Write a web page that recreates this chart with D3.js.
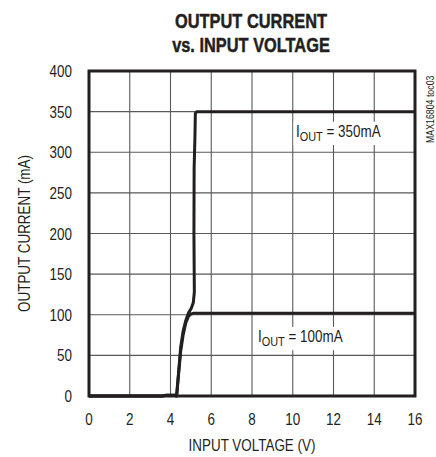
<!DOCTYPE html>
<html>
<head>
<meta charset="utf-8">
<script src="https://cdn.jsdelivr.net/npm/d3@7"></script>
<style>
  html, body { margin: 0; padding: 0; background: #fff; overflow: hidden; }
  svg { display: block; }
  text { font-family: "Liberation Sans", Arial, sans-serif; fill: #231f20; }
</style>
</head>
<body>
<svg id="chart" width="436" height="457"></svg>
<script>
// data
var xTicks = [0, 2, 4, 6, 8, 10, 12, 14, 16];
var yTicks = [0, 50, 100, 150, 200, 250, 300, 350, 400];

var vin350 = [0, 3.6, 3.8, 4.2, 4.3, 4.4, 4.5, 4.62, 4.75, 4.88, 5.02, 5.12, 5.17, 5.15, 5.16, 5.2, 5.22, 5.3, 16];
var iout350 = [0, 0, 1, 1, 0, 30, 60, 80, 93, 102, 108, 115, 128, 200, 280, 320, 348, 350, 350];

var vin100 = [0, 3.6, 3.8, 4.2, 4.3, 4.4, 4.5, 4.62, 4.75, 4.88, 5.0, 5.15, 5.3, 16];
var iout100 = [0, 0, 1, 1, 0, 28, 55, 75, 90, 98, 101, 102, 102, 102];

var margin = {top: 71, left: 89, right: 21, bottom: 61};
var width = 436, height = 457;
var innerWidth = width - margin.left - margin.right;
var innerHeight = height - margin.top - margin.bottom;
var narrow = 0.84; // condensed look

var svg = d3.select("#chart");

// scales work in page coordinates
var xScale = d3.scaleLinear().domain([0, 16]).range([margin.left, margin.left + innerWidth]);
var yScale = d3.scaleLinear().domain([0, 400]).range([margin.top + innerHeight, margin.top]);

// grid
svg.selectAll(".vgrid").data(xTicks).enter().append("line")
    .attr("x1", function (d) { return xScale(d); })
    .attr("x2", function (d) { return xScale(d); })
    .attr("y1", margin.top).attr("y2", margin.top + innerHeight)
    .attr("stroke", "#58595b").attr("stroke-width", 1.1);
svg.selectAll(".hgrid").data(yTicks).enter().append("line")
    .attr("y1", function (d) { return yScale(d); })
    .attr("y2", function (d) { return yScale(d); })
    .attr("x1", margin.left).attr("x2", margin.left + innerWidth)
    .attr("stroke", "#58595b").attr("stroke-width", 1.1);

// frame
svg.append("rect")
    .attr("x", margin.left).attr("y", margin.top)
    .attr("width", innerWidth).attr("height", innerHeight)
    .attr("fill", "none").attr("stroke", "#231f20").attr("stroke-width", 3);

// curves
var line = d3.line()
    .x(function (d) { return xScale(d[0]); })
    .y(function (d) { return yScale(d[1]); });

svg.append("path")
    .datum(d3.zip(vin100, iout100))
    .attr("d", line)
    .attr("fill", "none").attr("stroke", "#231f20")
    .attr("stroke-width", 3).attr("stroke-linejoin", "round");

svg.append("path")
    .datum(d3.zip(vin350, iout350))
    .attr("d", line)
    .attr("fill", "none").attr("stroke", "#231f20")
    .attr("stroke-width", 3).attr("stroke-linejoin", "round");

// narrow text helper
function narrowText(x, y, size, str, opts) {
    opts = opts || {};
    var t = svg.append("text")
        .attr("transform", "translate(" + x + "," + y + ")" +
            (opts.rotate ? " rotate(" + opts.rotate + ")" : "") +
            " scale(" + (opts.sx || narrow) + ",1)")
        .attr("text-anchor", opts.anchor || "middle")
        .style("font-size", size + "px")
        .text(str);
    if (opts.bold) t.style("font-weight", "bold").attr("stroke", "#231f20").attr("stroke-width", 0.5);
    if (opts.fill) t.attr("fill", opts.fill);
    return t;
}

// tick labels
var fmt = xScale.tickFormat();
xTicks.forEach(function (d) {
    narrowText(xScale(d), margin.top + innerHeight + 29, 16, fmt(d));
});
yTicks.forEach(function (d) {
    narrowText(margin.left - 17, yScale(d) + 6, 16, yScale.tickFormat()(d), {anchor: "end"});
});

// curve labels with white box
function curveLabel(px, yv, value) {
    var lg = svg.append("g")
        .attr("transform", "translate(" + px + "," + yScale(yv) + ") scale(" + narrow + ",1)");
    var box = lg.append("rect").attr("fill", "#fff");
    var t = lg.append("text").style("font-size", "16px");
    t.append("tspan").text("I");
    t.append("tspan").attr("dy", 4).style("font-size", "13px").text("OUT");
    t.append("tspan").attr("dy", -4).text(" = " + value);
    var bb = t.node().getBBox();
    box.attr("x", bb.x - 3).attr("y", bb.y - 1)
        .attr("width", bb.width + 6).attr("height", bb.height + 2);
}
curveLabel(296, 319, "350mA");
curveLabel(258, 66.5, "100mA");

// titles
narrowText(251, 27.5, 21, "OUTPUT CURRENT", {bold: true, sx: 0.78});
narrowText(251, 51.5, 21, "vs. INPUT VOLTAGE", {bold: true, sx: 0.78});

narrowText(252, 451, 16, "INPUT VOLTAGE (V)");
narrowText(30, margin.top + innerHeight / 2, 16, "OUTPUT CURRENT (mA)", {rotate: -90});

narrowText(434, 143, 10, "MAX16804 toc03", {rotate: -90, anchor: "start", sx: 0.88, fill: "#414042"});
</script>
</body>
</html>
